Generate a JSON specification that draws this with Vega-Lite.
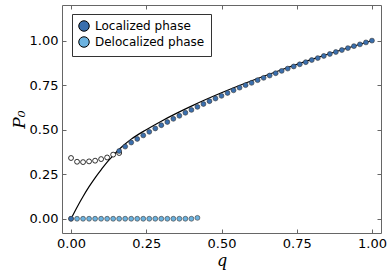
{
  "$schema": "https://vega.github.io/schema/vega-lite/v6.json",
  "width": 319,
  "height": 228,
  "autosize": {"type": "none"},
  "padding": {"left": 62, "top": 5, "right": 6, "bottom": 43},
  "config": {
    "view": {"stroke": "#666", "strokeWidth": 1},
    "axis": {"grid": false, "domain": false, "labelFont": "DejaVu Sans", "labelFontSize": 13, "labelColor": "#000", "tickColor": "#666", "tickSize": -4, "labelPadding": 8}
  },
  "datasets": {
    "curve": [
      {"q": 0, "P": 0}, {"q": 0.02, "P": 0.065}, {"q": 0.04, "P": 0.125}, {"q": 0.06, "P": 0.18},
      {"q": 0.08, "P": 0.23}, {"q": 0.1, "P": 0.275}, {"q": 0.12, "P": 0.318}, {"q": 0.14, "P": 0.355},
      {"q": 0.16, "P": 0.39}, {"q": 0.18, "P": 0.42}, {"q": 0.2, "P": 0.447}, {"q": 0.25, "P": 0.5},
      {"q": 0.3, "P": 0.5477}, {"q": 0.35, "P": 0.5916}, {"q": 0.4, "P": 0.6325}, {"q": 0.5, "P": 0.7071},
      {"q": 0.6, "P": 0.7746}, {"q": 0.7, "P": 0.8367}, {"q": 0.8, "P": 0.8944}, {"q": 0.9, "P": 0.9487},
      {"q": 1.0, "P": 1.0}
    ],
    "open": [
      {"q": 0.0, "P": 0.341}, {"q": 0.02, "P": 0.320}, {"q": 0.04, "P": 0.318}, {"q": 0.06, "P": 0.322},
      {"q": 0.08, "P": 0.326}, {"q": 0.10, "P": 0.335}, {"q": 0.12, "P": 0.344}, {"q": 0.14, "P": 0.360},
      {"q": 0.16, "P": 0.369}
    ],
    "phases": [
      {"q": 0.00, "P": 0, "phase": "Delocalized phase"}, {"q": 0.02, "P": 0, "phase": "Delocalized phase"},
      {"q": 0.04, "P": 0, "phase": "Delocalized phase"}, {"q": 0.06, "P": 0, "phase": "Delocalized phase"},
      {"q": 0.08, "P": 0, "phase": "Delocalized phase"}, {"q": 0.10, "P": 0, "phase": "Delocalized phase"},
      {"q": 0.12, "P": 0, "phase": "Delocalized phase"}, {"q": 0.14, "P": 0, "phase": "Delocalized phase"},
      {"q": 0.16, "P": 0, "phase": "Delocalized phase"}, {"q": 0.18, "P": 0, "phase": "Delocalized phase"},
      {"q": 0.20, "P": 0, "phase": "Delocalized phase"}, {"q": 0.22, "P": 0, "phase": "Delocalized phase"},
      {"q": 0.24, "P": 0, "phase": "Delocalized phase"}, {"q": 0.26, "P": 0, "phase": "Delocalized phase"},
      {"q": 0.28, "P": 0, "phase": "Delocalized phase"}, {"q": 0.30, "P": 0, "phase": "Delocalized phase"},
      {"q": 0.32, "P": 0, "phase": "Delocalized phase"}, {"q": 0.34, "P": 0, "phase": "Delocalized phase"},
      {"q": 0.36, "P": 0, "phase": "Delocalized phase"}, {"q": 0.38, "P": 0, "phase": "Delocalized phase"},
      {"q": 0.40, "P": 0, "phase": "Delocalized phase"}, {"q": 0.42, "P": 0.005, "phase": "Delocalized phase"},
      {"q": 0.00, "P": 0, "phase": "Localized phase"},
      {"q": 0.16, "P": 0.380, "phase": "Localized phase"}, {"q": 0.18, "P": 0.405, "phase": "Localized phase"},
      {"q": 0.20, "P": 0.428, "phase": "Localized phase"}, {"q": 0.22, "P": 0.448, "phase": "Localized phase"},
      {"q": 0.24, "P": 0.468, "phase": "Localized phase"}, {"q": 0.26, "P": 0.488, "phase": "Localized phase"},
      {"q": 0.28, "P": 0.507, "phase": "Localized phase"}, {"q": 0.30, "P": 0.525, "phase": "Localized phase"},
      {"q": 0.32, "P": 0.543, "phase": "Localized phase"}, {"q": 0.34, "P": 0.561, "phase": "Localized phase"},
      {"q": 0.36, "P": 0.578, "phase": "Localized phase"}, {"q": 0.38, "P": 0.595, "phase": "Localized phase"},
      {"q": 0.40, "P": 0.611, "phase": "Localized phase"}, {"q": 0.42, "P": 0.628, "phase": "Localized phase"},
      {"q": 0.44, "P": 0.644, "phase": "Localized phase"}, {"q": 0.46, "P": 0.660, "phase": "Localized phase"},
      {"q": 0.48, "P": 0.675, "phase": "Localized phase"}, {"q": 0.50, "P": 0.690, "phase": "Localized phase"},
      {"q": 0.52, "P": 0.706, "phase": "Localized phase"}, {"q": 0.54, "P": 0.721, "phase": "Localized phase"},
      {"q": 0.56, "P": 0.736, "phase": "Localized phase"}, {"q": 0.58, "P": 0.750, "phase": "Localized phase"},
      {"q": 0.60, "P": 0.763, "phase": "Localized phase"}, {"q": 0.62, "P": 0.778, "phase": "Localized phase"},
      {"q": 0.64, "P": 0.791, "phase": "Localized phase"}, {"q": 0.66, "P": 0.804, "phase": "Localized phase"},
      {"q": 0.68, "P": 0.817, "phase": "Localized phase"}, {"q": 0.70, "P": 0.830, "phase": "Localized phase"},
      {"q": 0.72, "P": 0.843, "phase": "Localized phase"}, {"q": 0.74, "P": 0.855, "phase": "Localized phase"},
      {"q": 0.76, "P": 0.867, "phase": "Localized phase"}, {"q": 0.78, "P": 0.879, "phase": "Localized phase"},
      {"q": 0.80, "P": 0.891, "phase": "Localized phase"}, {"q": 0.82, "P": 0.902, "phase": "Localized phase"},
      {"q": 0.84, "P": 0.914, "phase": "Localized phase"}, {"q": 0.86, "P": 0.925, "phase": "Localized phase"},
      {"q": 0.88, "P": 0.936, "phase": "Localized phase"}, {"q": 0.90, "P": 0.947, "phase": "Localized phase"},
      {"q": 0.92, "P": 0.958, "phase": "Localized phase"}, {"q": 0.94, "P": 0.969, "phase": "Localized phase"},
      {"q": 0.96, "P": 0.979, "phase": "Localized phase"}, {"q": 0.98, "P": 0.990, "phase": "Localized phase"},
      {"q": 1.00, "P": 1.000, "phase": "Localized phase"}
    ]
  },
  "layer": [
    {
      "data": {"name": "curve"},
      "mark": {"type": "line", "color": "#000", "strokeWidth": 1.2, "interpolate": "monotone"},
      "encoding": {
        "x": {"field": "q", "type": "quantitative",
          "scale": {"domain": [-0.03, 1.03], "nice": false, "zero": false},
          "axis": {"values": [0, 0.25, 0.5, 0.75, 1], "format": ".2f", "title": "q", "titleFont": "DejaVu Serif", "titleFontStyle": "italic", "titleFontWeight": "normal", "titleFontSize": 16, "titlePadding": 2}},
        "y": {"field": "P", "type": "quantitative",
          "scale": {"domain": [-0.08, 1.2], "nice": false, "zero": false},
          "axis": {"values": [0, 0.25, 0.5, 0.75, 1], "format": ".2f", "title": "P₀", "titleFont": "DejaVu Serif", "titleFontStyle": "italic", "titleFontWeight": "normal", "titleFontSize": 17, "titlePadding": 1}}
      }
    },
    {
      "data": {"name": "open"},
      "mark": {"type": "point", "shape": "circle", "filled": false, "fill": "#fff", "stroke": "#000", "strokeWidth": 0.8, "size": 24, "opacity": 1},
      "encoding": {
        "x": {"field": "q", "type": "quantitative", "axis": {"orient": "top", "values": [0, 0.25, 0.5, 0.75, 1], "labels": false, "title": null}},
        "y": {"field": "P", "type": "quantitative", "axis": {"orient": "right", "values": [0, 0.25, 0.5, 0.75, 1], "labels": false, "title": null}}
      }
    },
    {
      "data": {"name": "phases"},
      "mark": {"type": "point", "shape": "circle", "filled": true, "stroke": "#333", "strokeWidth": 0.6, "size": 24, "opacity": 1},
      "encoding": {
        "x": {"field": "q", "type": "quantitative", "axis": null},
        "y": {"field": "P", "type": "quantitative", "axis": null},
        "color": {"field": "phase", "type": "nominal",
          "scale": {"domain": ["Localized phase", "Delocalized phase"], "range": ["#3a6fae", "#6cb3e0"]},
          "legend": {"orient": "none", "legendX": 10, "legendY": 9, "title": null, "padding": 6, "strokeColor": "#333", "fillColor": "#fff",
            "symbolType": "circle", "symbolSize": 110, "symbolStrokeColor": "#000", "symbolStrokeWidth": 1, "symbolOpacity": 1,
            "labelFont": "DejaVu Sans", "labelFontSize": 12, "labelColor": "#000", "rowPadding": 0, "labelOffset": 5}}
      }
    }
  ],
  "resolve": {"axis": {"x": "independent", "y": "independent"}}
}
